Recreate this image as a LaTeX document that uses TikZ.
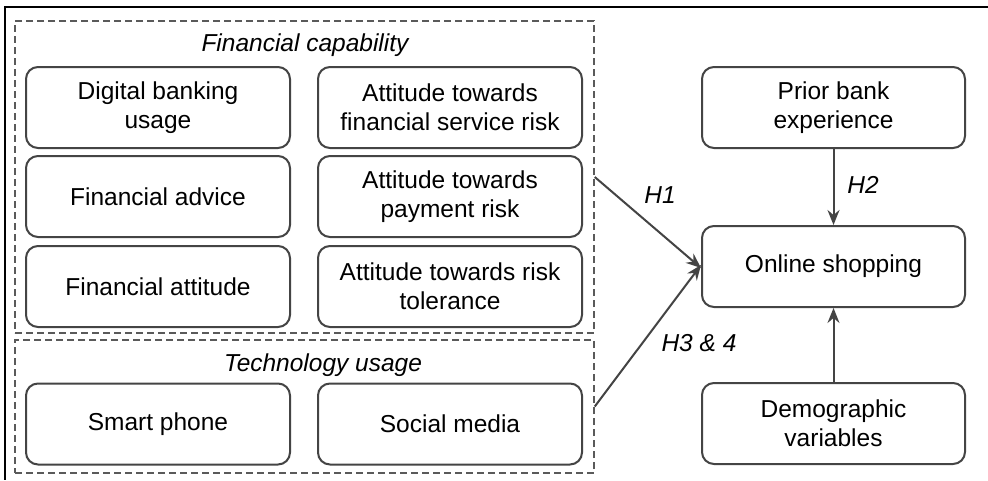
\documentclass[tikz,border=0pt]{standalone}
\usepackage{fontspec}
\setmainfont{Liberation Sans}
\usetikzlibrary{arrows.meta}
\definecolor{boxgray}{HTML}{444444}
\definecolor{dashgray}{HTML}{5A5A5A}
\begin{document}
\begin{tikzpicture}[x=1pt,y=-1pt,
  varbox/.style={draw=boxgray, line width=2pt, rounded corners=12pt, align=center,
    minimum width=264pt, minimum height=81pt, inner sep=0pt,
    font=\fontsize{24.5}{29}\selectfont},
  groupbox/.style={draw=dashgray, line width=1.5pt, dash pattern=on 7pt off 4pt, inner sep=0pt},
  grouptitle/.style={font=\fontsize{24.5}{29}\selectfont\itshape},
  hlabel/.style={font=\fontsize{24.5}{29}\selectfont\itshape},
  link/.style={draw=boxgray, line width=2pt, -{Stealth[length=15pt,width=12pt,inset=5pt]}}
]
\useasboundingbox (0,0) rectangle (988,480);
\fill[white] (0,0) rectangle (988,480);
% outer frame (top and left edges)
\draw[black, line width=1.5pt] (988,7) -- (5,7) -- (5,480);
% groups
\node[groupbox, minimum width=579pt, minimum height=312pt] (fc) at (304.5,177) {};
\node[groupbox, minimum width=579pt, minimum height=133pt] (tu) at (304.5,406.5) {};
\node[grouptitle] (fct) at (305,45) {Financial capability};
\node[grouptitle] (tut) at (323,365) {Technology usage};
% financial capability variables
\node[varbox] (dbu) at (158,107.5) {Digital banking\\usage};
\node[varbox] (fad) at (158,196.5) {Financial advice};
\node[varbox] (fat) at (158,286.5) {Financial attitude};
\node[varbox] (afs) at (450,107.5) {Attitude towards\\financial service risk};
\node[varbox] (apr) at (450,196.5) {Attitude towards\\payment risk};
\node[varbox] (art) at (450,286.5) {Attitude towards risk\\tolerance};
% technology usage
\node[varbox] (sph) at (158,424) {Smart phone};
\node[varbox] (smd) at (450,424) {Social media};
% right column
\node[varbox, minimum width=263pt] (pbe) at (833.5,107.5) {Prior bank\\experience};
\node[varbox, minimum width=263pt] (osh) at (833.5,266.5) {Online shopping};
\node[varbox, minimum width=263pt] (dem) at (833.5,423.5) {Demographic\\variables};
% connectors
\draw[link] (fc.east) -- ([yshift=-1.5pt]osh.west);
\draw[link] (tu.east) -- ([yshift=1.5pt]osh.west);
\draw[link] (pbe) -- (osh);
\draw[link] (dem) -- (osh);
% labels
\node[hlabel] (h1) at (660,195) {H1};
\node[hlabel] (h2) at (863,185) {H2};
\node[hlabel] (h34) at (699,343) {H3 \& 4};
\end{tikzpicture}
\end{document}
